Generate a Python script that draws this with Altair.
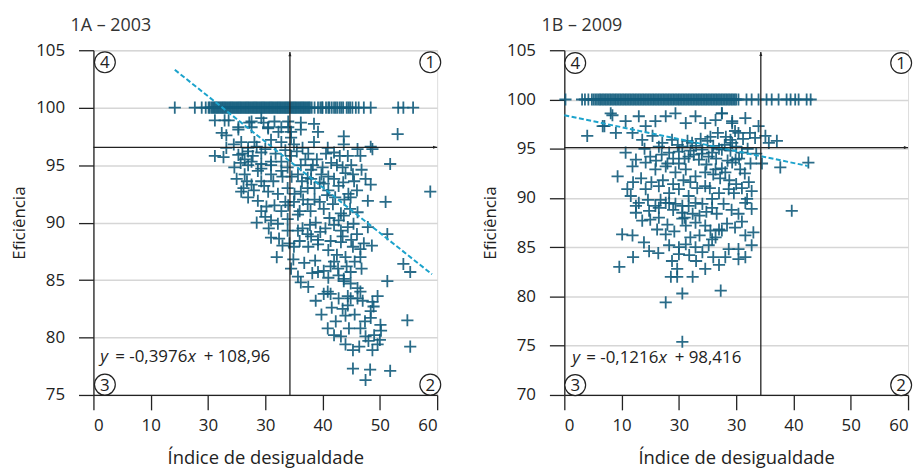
import altair as alt
import pandas as pd

FONT = "Open Sans"
PT_COLOR = "#135d7d"
REG_COLOR = "#1ca3cc"
INK = "#222222"
GRID = "#d6d6d6"

# ---------------- Panel 1A - 2003 ----------------
A_TITLE = "1A – 2003"
A_YDOMAIN = [75, 105]
A_YTICKS = [75, 80, 85, 90, 95, 100, 105]
A_ROW_Y = 100
A_ROW_X = [14.2, 17.7, 18.9, 19.6, 20.1, 20.6, 21.0, 21.4, 21.8, 22.2, 22.6, 23.0, 23.4, 23.8,
           24.2, 24.6, 25.0, 25.4, 25.8, 26.2, 26.6, 27.0, 27.4, 27.8, 28.2, 28.6, 29.0, 29.4,
           29.8, 30.2, 30.6, 31.0, 31.4, 31.8, 32.2, 32.6, 33.0, 33.4, 33.8, 34.2, 34.6, 35.0,
           35.4, 35.8, 36.2, 36.6, 37.0, 37.4, 37.8, 38.6, 39.2, 39.6, 40.0, 40.6, 41.2, 41.6,
           42.0, 42.6, 43.0, 43.6, 44.2, 44.8, 45.2, 45.8, 46.3, 47.2, 48.4, 53.2, 54.1, 55.8,
           20.3, 20.8, 21.2, 21.6, 22.0, 22.4, 22.8, 23.2, 23.6, 24.0, 24.4, 24.8, 25.2, 25.6,
           26.0, 26.4, 26.8, 27.2, 27.6, 28.0, 28.4, 28.8, 29.2, 29.6, 30.0, 30.4, 30.8, 31.2,
           31.6, 32.0, 32.4, 32.8, 33.2, 33.6, 34.0, 34.4, 34.8, 35.2, 35.6, 36.0, 36.4, 36.8,
           37.2, 37.6, 38.1, 39.9, 41.0, 42.3, 43.3, 44.5]
A_PTS = [
    (21.2, 98.9), (23.6, 98.9), (27.2, 98.7), (29.7, 98.7), (31.6, 98.8), (34.0, 98.8), (36.2, 98.7), (38.5, 98.6),
    (22.9, 98.9), (25.3, 98.3), (27.6, 98.8), (29.3, 99.1), (30.5, 98.3), (32.3, 97.9), (34.0, 98.3),
    (22.4, 97.8), (23.2, 97.6), (25.3, 98.1), (27.6, 98.3), (30.5, 98.2), (32.8, 98.3), (34.5, 97.9), (36.2, 98.1),
    (39.2, 97.9), (43.7, 97.5), (53.1, 97.7),
    (25.8, 97.0), (28.1, 97.0), (31.0, 97.2), (32.8, 97.0), (35.0, 96.8), (38.5, 97.0), (40.9, 96.5), (43.7, 96.8),
    (46.1, 96.4), (48.7, 96.4), (48.4, 96.6), (27.0, 96.5), (34.5, 97.4), (23.2, 96.5),
    (21.2, 95.8), (22.7, 95.7), (25.3, 95.9), (27.0, 96.2), (29.3, 96.1), (42.0, 96.1), (44.4, 95.8), (46.6, 95.8), (51.8, 95.1),
    (25.7, 95.2), (27.0, 95.0), (29.3, 94.7), (31.0, 95.0), (32.8, 95.3), (34.5, 95.8), (36.2, 95.0),
    (26.4, 95.5), (27.6, 95.3), (29.3, 95.1), (31.0, 95.3), (28.7, 94.5), (31.0, 94.2), (32.8, 94.5), (33.9, 94.8),
    (35.7, 94.2), (37.4, 93.9), (26.4, 94.2), (27.6, 93.3), (29.3, 93.6), (25.8, 92.7), (27.0, 92.2), (28.7, 91.9),
    (30.5, 92.7), (32.2, 92.5), (33.9, 93.0), (35.1, 92.5), (36.2, 92.7), (29.3, 91.0), (31.0, 90.2), (32.2, 89.9),
    (33.9, 90.3), (35.7, 90.7), (31.0, 88.7), (33.9, 89.3), (35.7, 89.3), (37.4, 89.0), (32.8, 91.0), (37.4, 91.6), (37.4, 93.0),
    (39.0, 95.5), (40.0, 94.8), (41.0, 94.0), (42.5, 95.0), (44.0, 94.3), (39.5, 93.5), (41.0, 92.8), (42.8, 93.2),
    (44.5, 92.5), (45.5, 93.6), (38.6, 92.0), (40.2, 91.2), (41.8, 91.6), (43.2, 90.8), (44.8, 91.2), (38.8, 90.0),
    (40.5, 89.5), (42.0, 89.8), (43.5, 88.8), (45.0, 88.5), (39.2, 88.5), (41.0, 87.6), (42.5, 87.2), (44.0, 87.0),
    (38.0, 93.8), (40.6, 96.0), (43.0, 95.8), (38.3, 95.0), (37.5, 96.0), (36.5, 96.5),
    (46.1, 90.9), (45.4, 89.9), (47.9, 89.6), (51.3, 89.0), (43.2, 89.3), (43.7, 90.6), (44.9, 92.2), (48.4, 93.3),
    (51.0, 91.8), (47.9, 91.9), (58.8, 92.7),
    (39.2, 85.7), (40.2, 85.8), (41.4, 86.2), (42.0, 86.6), (42.7, 86.0), (43.7, 85.1), (44.9, 85.7), (46.6, 87.0),
    (46.6, 87.7), (45.3, 87.9), (43.2, 88.3), (41.4, 88.4), (39.2, 88.1), (37.5, 87.9), (35.0, 87.9), (34.9, 86.8),
    (35.7, 85.3), (37.5, 84.4), (40.2, 83.8), (40.9, 84.0), (41.4, 83.8),
    (46.1, 84.3), (46.6, 84.0), (44.9, 84.7), (43.7, 84.9), (44.4, 83.6), (46.1, 83.4),
    (44.0, 81.9), (43.5, 82.5), (44.4, 82.8), (44.9, 83.4), (47.0, 83.2), (48.7, 83.1), (49.6, 83.6), (48.9, 82.7), (48.4, 82.3),
    (50.1, 81.1), (48.4, 81.7), (46.6, 80.8), (44.6, 80.8), (43.2, 80.1), (42.0, 80.2), (40.9, 80.8), (42.3, 81.4),
    (48.7, 78.9), (48.0, 79.7), (47.5, 80.1), (45.3, 78.9), (45.3, 77.3), (47.5, 76.3), (51.8, 77.1), (55.3, 79.2),
    (54.8, 81.5), (51.3, 84.9), (54.1, 86.4), (55.3, 85.7),
    (36.5, 89.5), (38.0, 88.8), (36.0, 91.0), (34.0, 91.5), (33.0, 88.0), (30.0, 90.5), (28.5, 90.0), (32.0, 87.0),
    (34.5, 86.0), (36.8, 86.5), (38.7, 86.7),
    (24.5, 96.8), (26.0, 96.0), (27.8, 95.8), (28.5, 96.6), (30.0, 96.4), (31.8, 96.0), (33.5, 96.3), (35.5, 96.2),
    (37.0, 95.5), (38.0, 94.6), (39.8, 94.2), (41.5, 95.2), (43.5, 94.8), (45.0, 95.0), (46.8, 94.6), (47.5, 93.8),
    (46.0, 92.8), (43.8, 92.0), (42.2, 92.2), (40.8, 92.4), (39.5, 91.8), (37.9, 91.0), (36.6, 92.0), (35.0, 91.8),
    (33.5, 91.8), (31.6, 91.5), (30.2, 91.4), (28.0, 92.8), (26.8, 93.6), (25.0, 93.8), (24.6, 94.8), (26.2, 93.0),
    (29.8, 93.2), (31.4, 93.6), (33.0, 94.0), (34.6, 94.0), (36.4, 93.6), (38.6, 93.0), (40.2, 93.4), (42.0, 93.8),
    (43.6, 93.5), (45.3, 94.2), (30.6, 89.5), (32.4, 88.6), (34.2, 88.2), (36.0, 88.4), (37.8, 89.8), (39.6, 89.2),
    (41.2, 90.4), (42.8, 90.2), (44.4, 89.6), (46.0, 89.0), (47.2, 88.2), (48.6, 88.0), (46.8, 86.0), (45.6, 86.6),
    (44.2, 86.2), (42.8, 85.4), (41.0, 85.2), (38.2, 85.6), (36.2, 84.8), (38.8, 83.2), (39.8, 82.0), (41.6, 82.6),
    (42.8, 83.4), (45.6, 82.0), (47.4, 81.4), (49.0, 80.2), (50.2, 80.6), (46.4, 79.2), (44.0, 79.4), (49.6, 79.4),
    (48.3, 77.2), (50.0, 79.8),
]
A_REG_X = [14.2, 59.1]
A_REG_Y = [103.3, 85.5]
A_VLINE_X = 34.3
A_HLINE_Y = 96.55
A_ARROW_TOP = 104.85
A_EQ = ["y", "= -0,3976", "x", "+ 108,96"]
A_EQ_DX = [0, 15, 88, 104]
A_EQ_POS = (1.2, 78.3)
A_CORNERS_X = [2.0, 58.8, 2.0, 58.8]
A_CORNERS_Y = [103.95, 103.95, 75.9, 75.9]

# ---------------- Panel 1B - 2009 ----------------
B_TITLE = "1B – 2009"
B_YDOMAIN = [70, 105]
B_YTICKS = [70, 75, 80, 85, 90, 95, 100, 105]
B_ROW_Y = 100
B_ROW_X = [0.2, 3.1, 3.6, 4.2, 4.8, 5.4, 6.0, 6.5, 7.0, 7.5, 8.0, 8.5, 9.0, 9.5, 10.0, 10.5, 11.0,
           11.5, 12.0, 12.5, 13.0, 13.5, 14.0, 14.5, 15.0, 15.5, 16.0, 16.5, 17.0, 17.5, 18.0, 18.5,
           19.0, 19.5, 20.0, 20.5, 21.0, 21.5, 22.0, 22.5, 23.0, 23.5, 24.0, 24.5, 25.0, 25.5, 26.0,
           26.5, 27.0, 27.5, 28.0, 28.5, 29.0, 29.5, 30.0, 31.8, 32.7, 33.9, 35.3, 36.2, 37.4, 38.8,
           39.5, 40.3, 40.9, 42.3, 43.0,
           5.1, 5.7, 6.25, 6.75, 7.25, 7.75, 8.25, 8.75, 9.25, 9.75, 10.25, 10.75, 11.25, 11.75,
           12.25, 12.75, 13.25, 13.75, 14.25, 14.75, 15.25, 15.75, 16.25, 16.75, 17.25, 17.75,
           18.25, 18.75, 19.25, 19.75, 20.25, 20.75, 21.25, 21.75, 22.25, 22.75, 23.25, 23.75,
           24.25, 24.75, 25.25, 25.75, 26.25, 26.75, 27.25, 27.75, 28.25, 28.75, 29.25, 29.75, 30.4]
B_PTS = [
    (4.0, 96.3), (6.7, 97.3), (9.0, 96.6), (8.1, 98.6),
    (7.0, 97.3), (8.4, 98.4), (10.7, 97.8), (13.0, 98.3), (14.2, 97.3), (15.9, 97.8), (17.7, 98.3), (19.4, 98.6),
    (21.2, 97.6), (22.9, 98.3), (24.6, 97.6), (26.4, 97.9), (27.5, 98.6), (29.3, 97.6),
    (11.9, 96.6), (13.6, 95.9), (15.4, 96.3), (17.1, 95.6), (18.8, 95.9), (20.6, 95.2), (22.3, 95.6), (24.1, 94.9),
    (25.8, 94.6), (27.5, 94.9), (29.3, 95.6), (16.5, 95.2), (18.3, 94.6), (20.0, 94.7), (21.7, 94.2), (23.5, 93.9), (25.2, 94.2),
    (10.7, 94.6), (12.5, 93.9), (11.9, 93.2), (14.2, 93.6), (15.9, 92.9), (17.7, 93.2), (19.4, 92.6), (21.2, 92.9),
    (22.9, 92.2), (24.6, 92.6), (26.4, 92.9), (28.1, 92.6), (9.3, 92.2), (11.0, 90.9), (11.6, 90.2), (14.2, 90.9),
    (16.5, 91.2), (18.3, 90.5), (20.0, 90.9), (21.7, 90.2), (24.6, 91.2), (27.0, 90.5), (28.7, 90.9), (29.3, 93.6),
    (13.0, 89.5), (15.9, 89.2), (18.3, 89.5), (20.6, 89.2), (22.9, 89.5), (25.8, 89.9),
    (12.5, 89.2), (12.5, 88.5), (14.8, 88.7), (16.5, 89.0), (17.7, 89.5), (19.4, 89.4), (20.6, 88.5), (21.7, 89.2),
    (24.1, 89.4), (25.8, 89.0), (31.6, 89.5), (32.7, 88.9), (30.4, 88.4), (16.5, 88.0), (18.0, 87.3), (20.6, 87.9),
    (21.2, 87.2), (22.9, 87.5), (24.6, 87.2), (25.5, 86.7), (27.0, 86.8), (26.4, 86.0), (13.6, 87.7), (10.1, 86.3),
    (11.9, 86.2), (13.9, 85.5), (17.7, 86.3), (18.3, 85.2), (20.0, 85.0), (21.2, 85.3), (22.9, 85.0), (24.1, 84.5),
    (25.2, 85.2), (25.8, 85.8), (27.5, 86.7), (28.7, 84.8), (30.4, 84.8), (31.6, 86.2), (32.7, 85.2), (28.1, 84.0),
    (30.4, 83.8), (24.6, 82.8), (20.0, 84.3), (18.8, 83.6), (19.7, 82.8), (19.7, 82.0), (9.6, 83.0), (27.3, 80.6),
    (20.6, 80.3), (17.7, 79.4), (20.6, 75.4), (39.7, 88.7),
    (27.5, 98.6), (29.3, 97.8), (31.6, 98.1), (33.9, 97.3), (35.1, 96.3), (35.7, 95.6), (37.1, 95.8), (37.7, 93.1),
    (42.6, 93.6), (30.4, 96.6), (29.0, 95.9), (33.3, 96.1), (29.9, 93.9), (30.7, 92.9), (32.2, 91.6), (32.7, 90.7),
    (29.6, 90.5), (31.9, 89.9),
    (26.0, 95.3), (27.0, 95.0), (28.0, 95.4), (29.0, 94.8), (30.0, 95.2), (31.0, 94.6), (32.0, 95.0), (25.0, 95.8),
    (23.0, 95.3), (24.0, 94.5), (26.5, 94.0), (28.5, 93.8), (30.5, 94.0), (32.5, 93.5), (22.0, 94.8), (21.0, 94.0),
    (20.0, 93.5), (19.0, 94.0), (27.5, 93.0), (31.5, 92.5), (33.5, 94.5), (34.5, 93.5),
    (14.0, 95.0), (15.0, 94.2), (16.0, 93.8), (17.0, 94.4), (18.0, 93.5), (19.8, 95.4), (21.5, 95.8), (22.6, 94.4),
    (23.8, 96.0), (25.5, 96.2), (26.8, 96.6), (28.2, 96.2), (29.8, 96.8), (31.2, 96.0), (32.4, 96.6), (24.8, 93.4),
    (26.0, 92.4), (27.2, 92.0), (28.8, 91.8), (30.0, 91.4), (31.0, 91.0), (25.4, 91.0), (23.2, 91.0), (22.0, 91.6),
    (20.8, 91.8), (19.0, 91.4), (17.2, 91.8), (15.2, 91.6), (13.4, 92.0), (12.0, 91.6), (14.6, 89.8), (16.8, 89.8),
    (19.0, 88.8), (21.0, 88.0), (22.4, 88.4), (23.6, 88.2), (24.8, 88.6), (26.6, 88.4), (27.8, 89.4), (29.2, 88.8),
    (28.4, 87.4), (29.8, 87.0), (31.0, 87.6), (23.6, 86.2), (22.0, 86.0), (19.2, 86.6), (16.2, 86.8), (15.0, 87.8),
    (21.8, 84.2), (23.0, 83.6), (26.0, 84.0), (27.0, 83.2), (22.4, 82.0), (18.6, 82.0), (31.6, 84.0), (33.0, 86.5),
    (12.0, 84.0), (14.8, 84.6), (16.4, 84.4),
]
B_REG_X = [0.0, 42.5]
B_REG_Y = [98.4, 93.25]
B_VLINE_X = 34.3
B_HLINE_Y = 95.12
B_ARROW_TOP = 104.83
B_EQ = ["y", "= -0,1216", "x", "+ 98,416"]
B_EQ_DX = [0, 14, 87, 103]
B_EQ_POS = (1.4, 73.8)
B_CORNERS_X = [1.9, 58.8, 1.9, 58.8]
B_CORNERS_Y = [103.7, 103.7, 71.0, 71.0]

CORNER_LABELS = ["4", "1", "3", "2"]
X_TICKS = [0, 10, 20, 30, 40, 50, 60]
X_TITLE = "Índice de desigualdade"
Y_TITLE = "Eficiência"

CROSS = "M-1,0H1M0,-1V1"
ARROW_UP = "M0,0L0.5,1.4L-0.5,1.4Z"
ARROW_RIGHT = "M0,0L-1.4,0.5L-1.4,-0.5Z"


def xenc(field="x"):
    return alt.X(f"{field}:Q", scale=alt.Scale(domain=[0, 60], nice=False, zero=False),
                 axis=alt.Axis(values=X_TICKS,
                               labelExpr="datum.value == 20 ? '30' : datum.label",
                               title=X_TITLE, grid=False, domainColor=INK, domainWidth=1.3,
                               tickColor=INK, tickWidth=1.3, tickSize=15, labelPadding=8,
                               labelFontSize=17, labelFont=FONT, labelColor=INK,
                               titleFont=FONT, titleFontSize=18.5, titleFontWeight="normal",
                               titleColor=INK, titlePadding=15))


def yenc(domain, ticks, field="y"):
    return alt.Y(f"{field}:Q", scale=alt.Scale(domain=domain, nice=False, zero=False),
                 axis=alt.Axis(values=ticks, title=Y_TITLE, grid=True, gridColor=GRID,
                               gridWidth=1.5, domainColor=INK, domainWidth=1.3,
                               tickColor=INK, tickWidth=1.3, tickSize=15, labelPadding=14,
                               labelFontSize=17, labelFont=FONT, labelColor=INK,
                               titleFont=FONT, titleFontSize=17, titleFontWeight="normal",
                               titleColor=INK, titlePadding=7))


def panel(title, ydom, yticks, row_x, row_y, pts, reg_x, reg_y, vx, hy, arrow_top,
          eq, eq_dx, eq_pos, cx, cy):
    X = xenc()
    Y = yenc(ydom, yticks)
    pts_df = pd.DataFrame({"x": row_x + [p[0] for p in pts],
                           "y": [row_y] * len(row_x) + [p[1] for p in pts]})
    points = alt.Chart(pts_df).mark_point(shape=CROSS, size=150, strokeWidth=1.8,
                                          color=PT_COLOR, opacity=0.9, filled=False
                                          ).encode(x=X, y=Y)
    reg = alt.Chart(pd.DataFrame({"x": reg_x, "y": reg_y})).mark_line(
        color=REG_COLOR, strokeWidth=2, strokeDash=[5, 2.5]).encode(x=X, y=Y)
    vline = alt.Chart(pd.DataFrame({"x": [vx], "y": [ydom[0]], "y2": [arrow_top]})).mark_rule(
        color=INK, strokeWidth=1.3).encode(x=X, y=Y, y2="y2:Q")
    hline = alt.Chart(pd.DataFrame({"x": [0], "x2": [60], "y": [hy]})).mark_rule(
        color=INK, strokeWidth=1.3).encode(x=X, x2="x2:Q", y=Y)
    up = alt.Chart(pd.DataFrame({"x": [vx], "y": [arrow_top]})).mark_point(
        shape=ARROW_UP, size=36, filled=True, color=INK, opacity=1).encode(x=X, y=Y)
    right = alt.Chart(pd.DataFrame({"x": [60], "y": [hy]})).mark_point(
        shape=ARROW_RIGHT, size=36, filled=True, color=INK, opacity=1).encode(x=X, y=Y)
    circ_df = pd.DataFrame({"x": cx, "y": cy, "t": CORNER_LABELS})
    circles = alt.Chart(circ_df).mark_point(shape="circle", size=440, fill="white",
                                            filled=False, stroke=INK, strokeWidth=1.2,
                                            opacity=1).encode(x=X, y=Y)
    digits = alt.Chart(circ_df).mark_text(font=FONT, fontSize=17, color=INK, dy=1).encode(
        x=X, y=Y, text="t:N")
    eq_layers = []
    for txt, dx in zip(eq, eq_dx):
        italic = txt in ("x", "y")
        eq_layers.append(
            alt.Chart(pd.DataFrame({"x": [eq_pos[0]], "y": [eq_pos[1]], "t": [txt]})).mark_text(
                font=FONT, fontSize=17, color=INK, align="left", baseline="middle", dx=dx,
                fontStyle="italic" if italic else "normal").encode(x=X, y=Y, text="t:N"))
    return alt.layer(points, reg, vline, hline, up, right, circles, digits, *eq_layers).properties(
        width=346, height=347,
        title=alt.TitleParams(title, anchor="start", frame="group", dx=-23, offset=6,
                              font=FONT, fontSize=18, fontWeight="normal", color="#333333"))


left = panel(A_TITLE, A_YDOMAIN, A_YTICKS, A_ROW_X, A_ROW_Y, A_PTS, A_REG_X, A_REG_Y,
             A_VLINE_X, A_HLINE_Y, A_ARROW_TOP, A_EQ, A_EQ_DX, A_EQ_POS, A_CORNERS_X, A_CORNERS_Y)
right = panel(B_TITLE, B_YDOMAIN, B_YTICKS, B_ROW_X, B_ROW_Y, B_PTS, B_REG_X, B_REG_Y,
              B_VLINE_X, B_HLINE_Y, B_ARROW_TOP, B_EQ, B_EQ_DX, B_EQ_POS, B_CORNERS_X, B_CORNERS_Y)

chart = alt.hconcat(left, right, spacing=37).properties(
    padding={"left": 2, "top": 7, "right": 0, "bottom": 0}
).configure_view(stroke=GRID, strokeWidth=1.5).configure(background="white")

chart.save("out.html", embed_options={"renderer": "svg", "actions": False})
